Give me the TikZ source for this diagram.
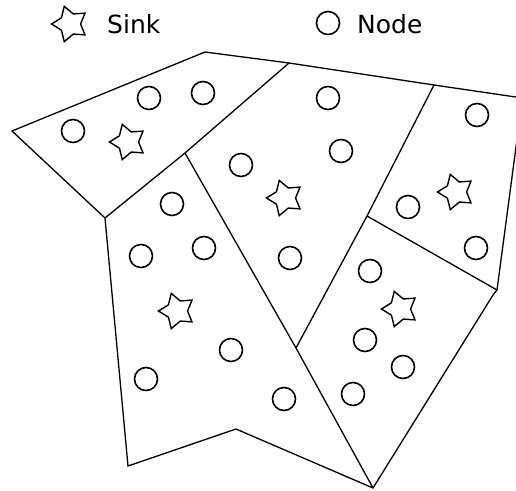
\documentclass[tikz,border=0pt]{standalone}
\usepackage{fontspec}
\setmainfont{DejaVu Sans}
\usetikzlibrary{shapes.geometric}
\begin{document}
\begin{tikzpicture}[x=1pt, y=-1pt,
  edge/.style={line width=1.3pt, line join=miter},
  sensor/.style={circle, draw, line width=1.6pt, inner sep=0pt, minimum size=23pt},
  sink/.style={star, star points=5, star point ratio=1.75, shape border rotate=90,
               draw, line width=1.4pt, inner sep=0pt, minimum size=37pt},
  legend/.style={font=\fontsize{25}{30}\selectfont, inner sep=0pt, anchor=base west}]
\useasboundingbox (0,0) rectangle (516,490);
\clip (0,0) rectangle (516,490);

% legend
\node[sink] (lsink) at (70,24) {};
\node[legend] (lsinktxt) at (107,33) {Sink};
\node[sensor] (lnode) at (328,23) {};
\node[legend] (lnodetxt) at (357,33) {Node};

% cluster boundary vertices
\coordinate (lt) at (12,131);
\coordinate (ta) at (205,52);
\coordinate (tj) at (289,63);
\coordinate (mj) at (185,153);
\coordinate (lj) at (105,218);
\coordinate (rj) at (434,85);
\coordinate (rc) at (522.5,98);
\coordinate (cj) at (367,216);
\coordinate (re) at (497,290);
\coordinate (rk) at (493,295);
\coordinate (bj) at (296,348);
\coordinate (bt) at (373,488);
\coordinate (bn) at (236,429);
\coordinate (bl) at (128,466);

% cluster boundaries
\draw[edge] (lt) -- (ta) -- (tj) -- (rj) -- (rc) -- (re) -- (rk) -- (bt) -- (bn) -- (bl) -- (lj) -- cycle;
\draw[edge] (lj) -- (mj) -- (tj);
\draw[edge] (mj) -- (bj) -- (bt);
\draw[edge] (rj) -- (cj) -- (bj);
\draw[edge] (cj) -- (re);

% sinks
\node[sink] (s1) at (128,142) {};
\node[sink] (s2) at (285,198) {};
\node[sink] (s3) at (456,192) {};
\node[sink] (s4) at (177,311) {};
\node[sink] (s5) at (400,309) {};

% sensor nodes
\node[sensor] (n1) at (149,98) {};
\node[sensor] (n2) at (203,93) {};
\node[sensor] (n3) at (73,131) {};
\node[sensor] (n4) at (328,98) {};
\node[sensor] (n5) at (477,115) {};
\node[sensor] (n6) at (341,151) {};
\node[sensor] (n7) at (241,165) {};
\node[sensor] (n8) at (172,204) {};
\node[sensor] (n9) at (408,207) {};
\node[sensor] (n10) at (141,256) {};
\node[sensor] (n11) at (204,248) {};
\node[sensor] (n12) at (290,258) {};
\node[sensor] (n13) at (370,271) {};
\node[sensor] (n14) at (476,248) {};
\node[sensor] (n15) at (365,340) {};
\node[sensor] (n16) at (403,367) {};
\node[sensor] (n17) at (353,394) {};
\node[sensor] (n18) at (231,350) {};
\node[sensor] (n19) at (146,379) {};
\node[sensor] (n20) at (284,399) {};
\end{tikzpicture}
\end{document}
